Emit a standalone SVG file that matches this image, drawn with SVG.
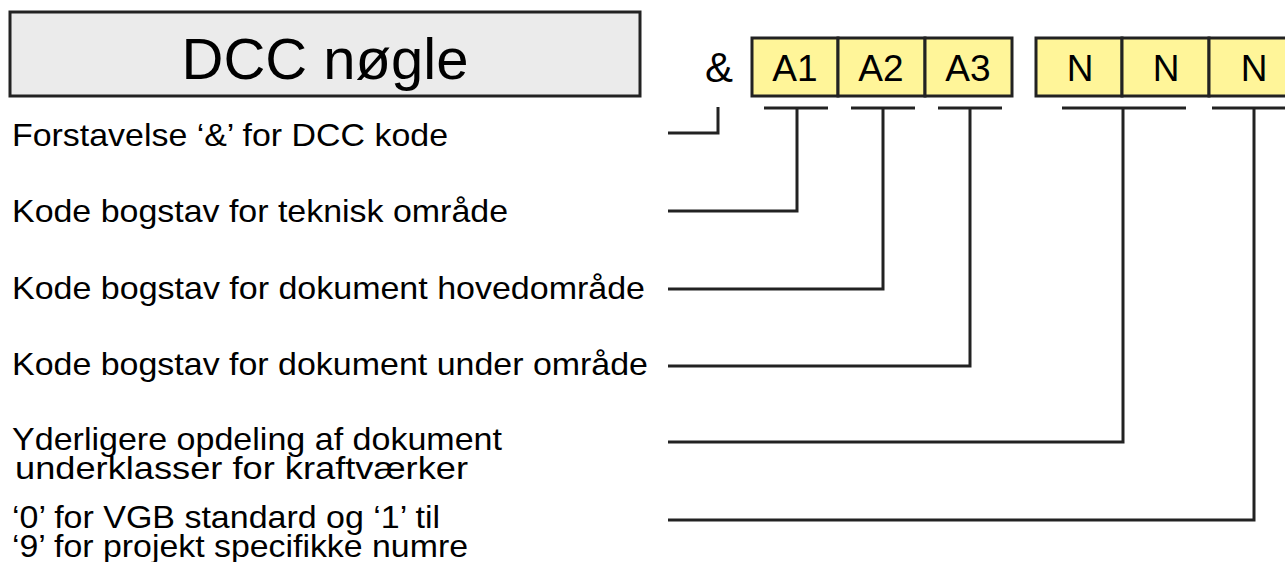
<svg xmlns="http://www.w3.org/2000/svg" width="1285" height="562" viewBox="0 0 1285 562">
<style>
text{font-family:"Liberation Sans",Arial,sans-serif;fill:#000}
.lbl{font-size:32px}
.cell{fill:#fff599;stroke:#222;stroke-width:3}
.ct{font-size:37px;text-anchor:middle}
.con{fill:none;stroke:#222;stroke-width:3}
</style>
<rect width="1285" height="562" fill="#fff"/>
<g id="title">
<rect x="10" y="12" width="630" height="84" fill="#ebebeb" stroke="#222" stroke-width="3"/>
<text x="325" y="79" font-size="58" text-anchor="middle">DCC nøgle</text>
</g>
<g id="prefix"><text x="719" y="82" font-size="42" text-anchor="middle">&amp;</text></g>
<g id="A1"><rect class="cell" x="752" y="38" width="86" height="58"/><text class="ct" x="795" y="81">A1</text></g>
<g id="A2"><rect class="cell" x="838" y="38" width="87" height="58"/><text class="ct" x="881" y="81">A2</text></g>
<g id="A3"><rect class="cell" x="925" y="38" width="87" height="58"/><text class="ct" x="968" y="81">A3</text></g>
<g id="N1"><rect class="cell" x="1036" y="38" width="86" height="58"/><text class="ct" x="1080" y="81">N</text></g>
<g id="N2"><rect class="cell" x="1122" y="38" width="87" height="58"/><text class="ct" x="1166" y="81">N</text></g>
<g id="N3"><rect class="cell" x="1209" y="38" width="90" height="58"/><text class="ct" x="1254" y="81">N</text></g>
<g id="labels">
<text class="lbl" x="12" y="146" textLength="436" lengthAdjust="spacingAndGlyphs">Forstavelse ‘&amp;’ for DCC kode</text>
<text class="lbl" x="12" y="222" textLength="496" lengthAdjust="spacingAndGlyphs">Kode bogstav for teknisk område</text>
<text class="lbl" x="12" y="299" textLength="633" lengthAdjust="spacingAndGlyphs">Kode bogstav for dokument hovedområde</text>
<text class="lbl" x="12" y="375" textLength="636" lengthAdjust="spacingAndGlyphs">Kode bogstav for dokument under område</text>
<text class="lbl" x="12" y="450" textLength="490" lengthAdjust="spacingAndGlyphs">Yderligere opdeling af dokument</text>
<text class="lbl" x="15" y="479" textLength="453" lengthAdjust="spacingAndGlyphs">underklasser for kraftværker</text>
<text class="lbl" x="12" y="528" textLength="428" lengthAdjust="spacingAndGlyphs">‘0’ for VGB standard og ‘1’ til</text>
<text class="lbl" x="12" y="557" textLength="456" lengthAdjust="spacingAndGlyphs">‘9’ for projekt specifikke numre</text>
</g>
<g id="connectors">
<polyline class="con" points="668,133 718,133 718,107"/>
<line class="con" x1="764" y1="108" x2="828" y2="108"/>
<polyline class="con" points="797,108 797,211 668,211"/>
<line class="con" x1="851" y1="108" x2="915" y2="108"/>
<polyline class="con" points="883,108 883,289 668,289"/>
<line class="con" x1="938" y1="108" x2="1002" y2="108"/>
<polyline class="con" points="970,108 970,366 668,366"/>
<line class="con" x1="1062" y1="108" x2="1186" y2="108"/>
<polyline class="con" points="1123,108 1123,442 668,442"/>
<line class="con" x1="1212" y1="108" x2="1290" y2="108"/>
<polyline class="con" points="1254,108 1254,520 668,520"/>
</g>
</svg>
